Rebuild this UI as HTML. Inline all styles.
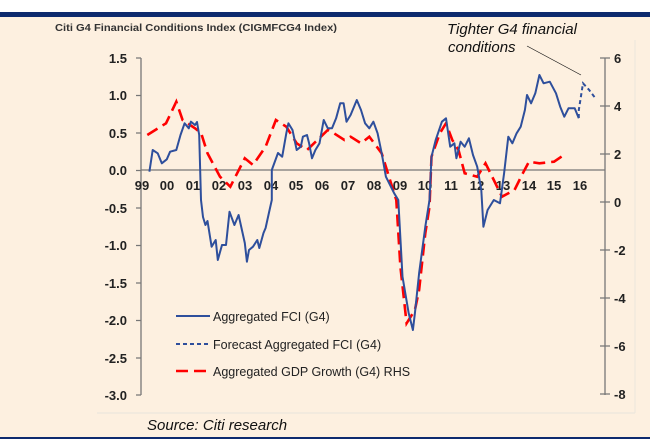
<!DOCTYPE html>
<html><head><style>
html,body{margin:0;padding:0;background:#fff}
svg{display:block}
text{font-family:"Liberation Sans",Arial,sans-serif}
</style></head><body>
<svg width="650" height="445" viewBox="0 0 650 445">
<rect x="0" y="0" width="650" height="445" fill="#fff"/>
<rect x="0" y="17" width="650" height="421" fill="#fdf0e0"/>
<rect x="0" y="12" width="650" height="5" fill="#0d2a6e"/>
<rect x="0" y="437" width="650" height="2" fill="#0d2a6e"/>
<line x1="97" y1="413" x2="635" y2="413" stroke="#e8e4dc" stroke-width="1"/>
<line x1="635" y1="40" x2="635" y2="413" stroke="#ece6dc" stroke-width="1"/>
<text x="55" y="31" font-size="10.5" font-weight="bold" fill="#333" textLength="282" lengthAdjust="spacingAndGlyphs">Citi G4 Financial Conditions Index (CIGMFCG4 Index)</text>
<text x="447" y="34" font-size="15" font-style="italic" fill="#111">Tighter G4 financial</text>
<text x="448" y="52" font-size="15" font-style="italic" fill="#111">conditions</text>
<line x1="527" y1="46" x2="581" y2="75" stroke="#111" stroke-width="0.7"/>
<!-- axes -->
<g stroke="#777" stroke-width="1.3" fill="none">
<line x1="141" y1="58" x2="141" y2="395"/>
<line x1="605" y1="58" x2="605" y2="395"/>
<line x1="141" y1="170" x2="605" y2="170"/>
<path d="M136 58H141M136 95.5H141M136 133H141M136 170.5H141M136 208H141M136 245.5H141M136 283H141M136 320.5H141M136 358H141M136 395H141"/>
<path d="M600 58H610M600 106H610M600 154H610M600 202H610M600 250H610M600 298H610M600 346H610M600 394H610"/>
</g>
<g font-size="13" font-weight="bold" fill="#222" text-anchor="end">
<text x="127" y="63">1.5</text><text x="127" y="100">1.0</text><text x="127" y="138">0.5</text>
<text x="127" y="175">0.0</text><text x="127" y="213">-0.5</text><text x="127" y="250">-1.0</text>
<text x="127" y="288">-1.5</text><text x="127" y="325">-2.0</text><text x="127" y="363">-2.5</text><text x="127" y="400">-3.0</text>
</g>
<g font-size="13" font-weight="bold" fill="#222" text-anchor="start">
<text x="614" y="63">6</text><text x="614" y="111">4</text><text x="614" y="159">2</text><text x="614" y="207">0</text>
<text x="614" y="255">-2</text><text x="614" y="303">-4</text><text x="614" y="351">-6</text><text x="614" y="399">-8</text>
</g>
<g font-size="13" font-weight="bold" fill="#222" text-anchor="middle">
<text x="142" y="190">99</text><text x="167" y="190">00</text><text x="193" y="190">01</text><text x="219" y="190">02</text>
<text x="245" y="190">03</text><text x="271" y="190">04</text><text x="296" y="190">05</text><text x="322" y="190">06</text>
<text x="348" y="190">07</text><text x="374" y="190">08</text><text x="400" y="190">09</text><text x="425" y="190">10</text>
<text x="451" y="190">11</text><text x="477" y="190">12</text><text x="503" y="190">13</text><text x="529" y="190">14</text>
<text x="554" y="190">15</text><text x="580" y="190">16</text>
</g>
<!-- GDP red -->
<polyline fill="none" stroke="#ff0000" stroke-width="2.6" stroke-dasharray="12,6" points="147.3,135 166,123.3 176.3,101.7 182.6,120 195,128.3 201.2,133.3 207.5,153.3 220,176.7 230.3,186.7 244.8,158.3 253,165 265.6,146.7 275.9,120 286.3,126.7 296.7,143.3 307,150 327.8,130 334,133.3 344.4,140 350.6,136.7 361,143.3 369.3,136.7 381.7,153.3 392.1,186.7 396.3,200 400.4,266.7 406.6,323.3 414.9,310 419.1,290 425.3,233.3 429.5,206.7 431.5,156.7 439.8,133.3 446,123.3 452.3,140 458.5,150 464.7,173.3 477.2,176.7 485.5,163.3 493.8,180 502,196.7 514.5,190 522.8,173.3 529,161.7 539.4,163.3 554,161.7 566.4,153.3"/>
<!-- FCI blue -->
<polyline fill="none" stroke="#2e4f9c" stroke-width="2" stroke-linejoin="round" points="149.4,171.7 152.7,150 157.7,153.3 161.8,163.3 166.8,159.3 170.1,151.7 176.3,150 180.5,135 184.6,123.3 188.8,128.3 190.9,121.7 195,125 197,122 199.2,135 201,200 203,217 205.4,225 207.5,221 211.6,246.7 215.7,240 217.8,260 222,245 226,245 229.5,211.7 234.4,225 238.6,215 244.8,243 246.9,261.7 249,250 253,246.7 257.3,240 259.3,248 263.5,233 265.6,228 268.9,213 271.8,200 271.8,170 278,153 282.2,156.7 286.3,133.3 288.4,123.3 292.5,130 296.7,150 300.8,146.7 302.9,136.7 307,135 309.1,143.3 312,158.3 315.4,150 319.5,143.3 323.7,120 327.8,128.3 332,128.3 336.1,118.3 340.2,103.3 343.6,103.3 346.5,121.7 350.6,115 356.8,100 361,110 365.1,123.3 369.3,128.3 373.4,121.7 377.6,133.3 381.7,153.3 385.9,176.7 394.2,193.3 398.3,200 402.5,276.7 408.7,313.3 412.9,330 414.9,313.3 419.1,273.3 425.3,226.7 429.5,200 431.5,156.7 435.7,140 441.9,121.7 446,118.3 450.2,146.7 454.4,143.3 456.4,158.3 460.6,141.7 464.7,146.7 468.9,138.3 473,155 477.2,166.7 481.3,190 483.4,226.7 487.6,210 493.8,200 500,203.3 504.1,173.3 508.3,136.7 512.4,143.3 516.6,133.3 520.7,126.7 524.9,110 527,95 531.1,103.3 535.3,93.3 539.4,75 543.6,83.3 549.8,81.7 556,93.3 560.2,106.7 564.3,116.7 568.5,108.3 574.7,108.3 578.8,118.3"/>
<polyline fill="none" stroke="#2e4f9c" stroke-width="2" stroke-dasharray="4,3" points="578.8,118 578.8,110 583,83.3 589.2,90 595.4,98.3"/>
<!-- legend -->
<line x1="176" y1="316" x2="210" y2="316" stroke="#2e4f9c" stroke-width="2"/>
<line x1="176" y1="344" x2="210" y2="344" stroke="#2e4f9c" stroke-width="2" stroke-dasharray="4,3"/>
<line x1="176" y1="371" x2="210" y2="371" stroke="#ff0000" stroke-width="2.6" stroke-dasharray="12,6"/>
<g font-size="12.5" fill="#222">
<text x="213" y="321">Aggregated FCI (G4)</text>
<text x="213" y="349">Forecast Aggregated FCI (G4)</text>
<text x="213" y="376">Aggregated GDP Growth (G4) RHS</text>
</g>
<text x="147" y="430" font-size="15" font-style="italic" fill="#111">Source: Citi research</text>
</svg>
</body></html>
